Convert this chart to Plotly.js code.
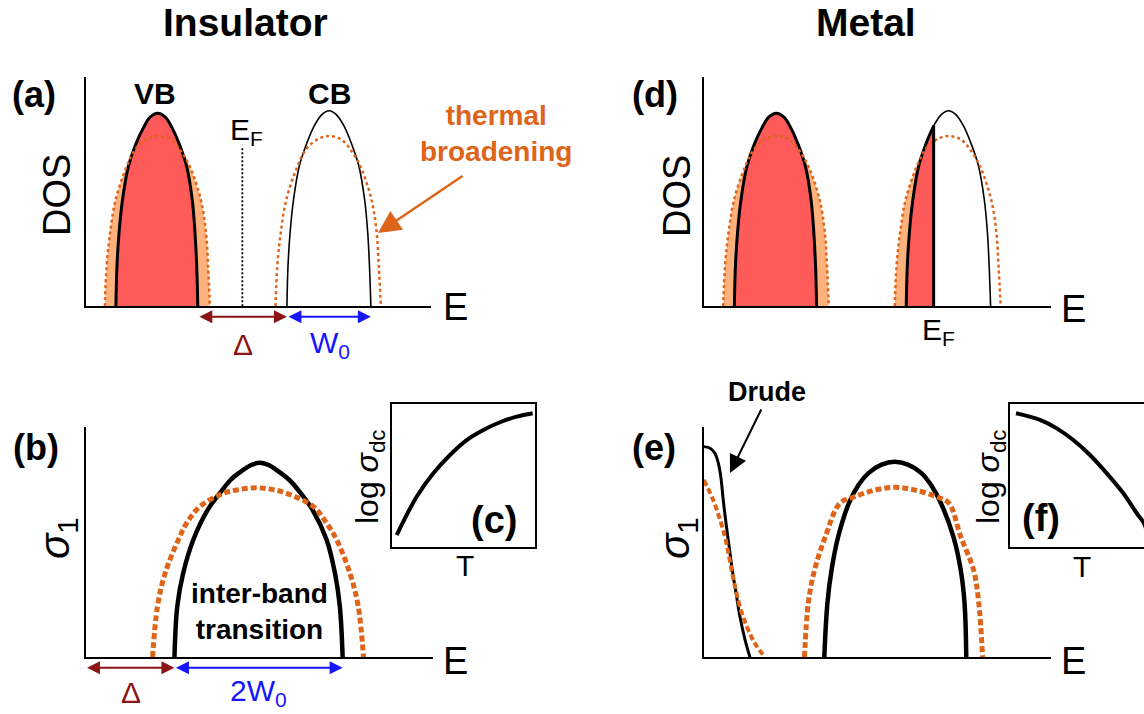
<!DOCTYPE html>
<html><head><meta charset="utf-8">
<script src="https://cdn.plot.ly/plotly-3.0.1.min.js"></script>
<style>html,body{margin:0;padding:0;background:#fff}</style>
</head><body><div id="chart" style="width:1144px;height:714px"></div>
<script>
// ---------- data (arbitrary schematic units) ----------
// (a)/(d) density of states: valence band (solid) and thermally broadened (dotted)
const vbX  = [0.88, 0.91, 0.97, 1.07, 1.24, 1.45, 1.67, 1.87, 2.09, 2.31, 2.51, 2.72, 2.93, 3.09, 3.17, 3.22, 3.25];
const vbY  = [0, 0.172, 0.318, 0.463, 0.608, 0.704, 0.776, 0.824, 0.841, 0.824, 0.776, 0.704, 0.608, 0.463, 0.318, 0.172, 0];
const vbTX = [0.56, 0.61, 0.71, 0.87, 1.19, 1.43, 1.72, 1.91, 2.11, 2.30, 2.49, 2.74, 3.02, 3.34, 3.49, 3.55, 3.60];
const vbTY = [0, 0.172, 0.318, 0.463, 0.608, 0.681, 0.724, 0.737, 0.742, 0.737, 0.724, 0.681, 0.608, 0.463, 0.318, 0.172, 0];
// conduction band (solid) and thermally broadened (dotted)
const cbX  = [5.83, 5.86, 5.92, 6.02, 6.19, 6.41, 6.62, 6.84, 7.05, 7.26, 7.48, 7.69, 7.91, 8.08, 8.17, 8.22, 8.26];
const cbY  = [0, 0.172, 0.318, 0.463, 0.612, 0.712, 0.786, 0.835, 0.852, 0.835, 0.786, 0.712, 0.612, 0.463, 0.318, 0.172, 0];
const cbTX = [5.50, 5.55, 5.65, 5.81, 6.13, 6.37, 6.62, 6.84, 7.05, 7.24, 7.43, 7.68, 7.96, 8.28, 8.43, 8.49, 8.55];
const cbTY = [0, 0.172, 0.318, 0.463, 0.608, 0.681, 0.718, 0.736, 0.742, 0.737, 0.724, 0.681, 0.608, 0.463, 0.318, 0.172, 0];
// Fermi levels
const efInsulator = 4.54, efInsulatorTop = 0.69;
const efMetal = 6.62;
// (b) insulator optical conductivity: inter-band (solid) and broadened (dashed)
const ibX  = [2.56, 2.64, 2.81, 3.10, 3.52, 3.92, 4.18, 4.45, 4.74, 5.02, 5.30, 5.58, 5.86, 6.14, 6.53, 6.94, 7.18, 7.32, 7.40];
const ibY  = [0, 0.22, 0.365, 0.51, 0.642, 0.724, 0.772, 0.805, 0.834, 0.846, 0.834, 0.805, 0.772, 0.724, 0.642, 0.51, 0.365, 0.22, 0];
const ibTX = [1.93, 2.07, 2.29, 2.67, 2.91, 3.29, 3.97, 4.45, 4.93, 5.36, 5.79, 6.56, 6.94, 7.23, 7.61, 7.85, 8.00];
const ibTY = [0, 0.22, 0.365, 0.51, 0.583, 0.655, 0.713, 0.73, 0.737, 0.73, 0.713, 0.655, 0.583, 0.51, 0.365, 0.22, 0];
// (e) metal optical conductivity: Drude + inter-band
const drX  = [0, 0.18, 0.32, 0.42, 0.49, 0.56, 0.64, 0.73, 0.82, 0.93, 1.04, 1.19, 1.33];
const drY  = [0.916, 0.909, 0.887, 0.843, 0.785, 0.684, 0.583, 0.481, 0.380, 0.278, 0.177, 0.075, 0];
const drTX = [0, 0.27, 0.47, 0.61, 0.71, 0.80, 0.90, 1.04, 1.24, 1.47, 1.76];
const drTY = [0.771, 0.684, 0.597, 0.524, 0.452, 0.380, 0.307, 0.22, 0.133, 0.061, 0];
const eibX  = [3.47, 3.56, 3.68, 3.87, 4.18, 4.45, 4.75, 5.12, 5.50, 5.88, 6.26, 6.55, 6.83, 7.19, 7.40, 7.51, 7.56];
const eibY  = [0, 0.235, 0.38, 0.524, 0.67, 0.748, 0.802, 0.838, 0.85, 0.838, 0.802, 0.748, 0.67, 0.524, 0.38, 0.235, 0];
const eibTX = [2.90, 3.01, 3.19, 3.50, 3.92, 4.34, 4.92, 5.50, 6.08, 6.70, 7.06, 7.40, 7.77, 7.92, 8.03];
const eibTY = [0, 0.235, 0.38, 0.524, 0.67, 0.698, 0.727, 0.739, 0.727, 0.698, 0.67, 0.524, 0.38, 0.235, 0];
// (c)/(f) log sigma_dc vs T
const cT = [0.033, 0.173, 0.29, 0.407, 0.524, 0.641, 0.758, 0.875, 0.987];
const cS = [0.082, 0.351, 0.515, 0.644, 0.749, 0.82, 0.874, 0.913, 0.937];
const fT = [0.042, 0.21, 0.328, 0.444, 0.561, 0.679, 0.795, 0.889, 0.94, 0.967];
const fS = [0.937, 0.89, 0.831, 0.749, 0.644, 0.515, 0.375, 0.235, 0.164, 0.082];

// ---------- styling ----------
const W = 1144, H = 714;
const px = v => v / W, py = v => 1 - v / H;
const FONT = 'Liberation Sans, Arial, sans-serif';
const RED = '#FF5A5A', PEACH = '#FDB27E', ORANGE = '#DD6418', DARKRED = '#8B1515', BLUE = '#1515FF';

function tr(xa, ya, x, y, line, extra) {
  return Object.assign({x, y, xaxis: xa, yaxis: ya, mode: 'lines', hoverinfo: 'skip',
    showlegend: false, line: Object.assign({shape: 'spline'}, line)}, extra || {});
}
const subset = (xs, ys, lim) => {
  const ox = [], oy = [];
  xs.forEach((v, i) => { if (v <= lim + 1e-9) { ox.push(v); oy.push(ys[i]); } });
  return [ox, oy];
};
const traces = [];
// (a) insulator DOS
traces.push(tr('x', 'y', vbTX, vbTY, {width: 0, color: PEACH}, {fill: 'tozeroy', fillcolor: PEACH}));
traces.push(tr('x', 'y', vbX, vbY, {width: 3, color: 'black'}, {fill: 'tozeroy', fillcolor: RED}));
traces.push(tr('x', 'y', vbTX, vbTY, {width: 2.5, color: ORANGE, dash: '3px,3px'}));
traces.push(tr('x', 'y', cbX, cbY, {width: 1.6, color: 'black'}));
traces.push(tr('x', 'y', cbTX, cbTY, {width: 2.5, color: ORANGE, dash: '3px,3px'}));
traces.push(tr('x', 'y', [efInsulator, efInsulator], [0, efInsulatorTop], {shape: 'linear', width: 1.8, color: 'black', dash: '2px,2px'}));
// (d) metal DOS
traces.push(tr('x2', 'y2', vbTX, vbTY, {width: 0, color: PEACH}, {fill: 'tozeroy', fillcolor: PEACH}));
traces.push(tr('x2', 'y2', vbX, vbY, {width: 3, color: 'black'}, {fill: 'tozeroy', fillcolor: RED}));
traces.push(tr('x2', 'y2', vbTX, vbTY, {width: 2.5, color: ORANGE, dash: '3px,3px'}));
const [cbTfx, cbTfy] = subset(cbTX, cbTY, efMetal);
const [cbFx, cbFy] = subset(cbX, cbY, efMetal);
traces.push(tr('x2', 'y2', cbTfx, cbTfy, {width: 0, color: PEACH}, {fill: 'tozeroy', fillcolor: PEACH}));
traces.push(tr('x2', 'y2', cbFx, cbFy, {width: 3, color: 'black'}, {fill: 'tozeroy', fillcolor: RED}));
traces.push(tr('x2', 'y2', cbX, cbY, {width: 1.6, color: 'black'}));
traces.push(tr('x2', 'y2', cbTX, cbTY, {width: 2.5, color: ORANGE, dash: '3px,3px'}));
traces.push(tr('x2', 'y2', [efMetal, efMetal], [0, cbFy[cbFy.length - 1]], {shape: 'linear', width: 3, color: 'black'}));
// (b) insulator sigma1
traces.push(tr('x3', 'y3', ibX, ibY, {width: 4.5, color: 'black'}));
traces.push(tr('x3', 'y3', ibTX, ibTY, {width: 5, color: ORANGE, dash: '6px,3px'}));
// (e) metal sigma1
traces.push(tr('x4', 'y4', drX, drY, {width: 3, color: 'black'}));
traces.push(tr('x4', 'y4', drTX, drTY, {width: 4, color: ORANGE, dash: '6px,3px'}));
traces.push(tr('x4', 'y4', eibX, eibY, {width: 4.5, color: 'black'}));
traces.push(tr('x4', 'y4', eibTX, eibTY, {width: 5, color: ORANGE, dash: '6px,3px'}));
// (c), (f) insets
traces.push(tr('x5', 'y5', cT, cS, {width: 4, color: 'black'}));
traces.push(tr('x6', 'y6', fT, fS, {width: 4, color: 'black'}));

const axBase = {showgrid: false, zeroline: false, showticklabels: false, ticks: '', showline: true,
  linecolor: 'black', linewidth: 2, fixedrange: true};
const topRow = [py(306.3), py(76.7)], botRow = [py(657.3), py(427.3)], inset = [py(546.7), py(404.3)];

const ann = [];
function txt(x, y, text, size, opts) {
  ann.push(Object.assign({xref: 'paper', yref: 'paper', x: px(x), y: py(y), text, showarrow: false,
    xanchor: 'center', yanchor: 'middle', font: {family: FONT, size, color: 'black'}}, opts || {}));
}
function harrow(xa, x0, x1, yPix, color) {
  ann.push({xref: xa, yref: 'paper', x: x1, y: py(yPix), axref: xa, ax: x0, ayref: 'pixel', ay: 0,
    text: '', showarrow: true, arrowhead: 2, startarrowhead: 2, arrowside: 'end+start',
    arrowsize: 1.3, startarrowsize: 1.3, arrowwidth: 2, arrowcolor: color, standoff: 0, startstandoff: 0});
}
txt(245, 22, '<b>Insulator</b>', 39);
txt(866, 22, '<b>Metal</b>', 39);
txt(34, 95, '<b>(a)</b>', 36);
txt(655, 95, '<b>(d)</b>', 36);
txt(36, 447, '<b>(b)</b>', 36);
txt(654, 447, '<b>(e)</b>', 36);
txt(155, 94, '<b>VB</b>', 30);
txt(329, 94, '<b>CB</b>', 30);
txt(57, 195, 'DOS', 38, {textangle: -90});
txt(677, 196, 'DOS', 38, {textangle: -90});
txt(455, 307, 'E', 38);
txt(1073, 309, 'E', 38);
txt(455, 661, 'E', 38);
txt(1073, 661, 'E', 38);
txt(57, 538, '<i>σ</i><sub>1</sub>', 42, {textangle: -90});
txt(677, 538, '<i>σ</i><sub>1</sub>', 42, {textangle: -90});
txt(246, 131, 'E<sub>F</sub>', 30);
txt(938, 331, 'E<sub>F</sub>', 30);
txt(496, 133, '<b>thermal<br>broadening</b>', 28, {font: {family: FONT, size: 28, color: ORANGE}});
txt(243, 344, 'Δ', 30, {font: {family: FONT, size: 30, color: DARKRED}});
txt(330, 344, 'W<sub>0</sub>', 30, {font: {family: FONT, size: 30, color: BLUE}});
txt(131, 692, 'Δ', 30, {font: {family: FONT, size: 30, color: DARKRED}});
txt(258, 692, '2W<sub>0</sub>', 30, {font: {family: FONT, size: 30, color: BLUE}});
txt(259, 611, '<b>inter-band<br>transition</b>', 28);
txt(767, 392, '<b>Drude</b>', 27);
txt(370, 477, 'log <i>σ</i><sub>dc</sub>', 32, {textangle: -90});
txt(991, 477, 'log <i>σ</i><sub>dc</sub>', 32, {textangle: -90});
txt(494, 520, '<b>(c)</b>', 38);
txt(1041, 518, '<b>(f)</b>', 38);
txt(465, 565, 'T', 30);
txt(1082, 566, 'T', 30);
// gap / bandwidth arrows derived from band edges
harrow('x', vbX[vbX.length - 1], cbX[0], 316.7, DARKRED);
harrow('x', cbX[0], cbX[cbX.length - 1], 316.7, BLUE);
harrow('x3', 0, ibX[0], 667.7, DARKRED);
harrow('x3', ibX[0], ibX[ibX.length - 1], 667.7, BLUE);
// pointer arrows
ann.push({xref: 'paper', yref: 'paper', x: px(378), y: py(233), ax: 86, ay: -58, text: '', showarrow: true,
  arrowhead: 2, arrowsize: 1.8, arrowwidth: 2.5, arrowcolor: ORANGE, standoff: 0});
ann.push({xref: 'paper', yref: 'paper', x: px(730), y: py(473), ax: 32, ay: -65, text: '', showarrow: true,
  arrowhead: 2, arrowsize: 1.8, arrowwidth: 2, arrowcolor: 'black', standoff: 0});

const layout = {
  width: W, height: H, autosize: false, margin: {l: 0, r: 0, t: 0, b: 0},
  paper_bgcolor: 'white', plot_bgcolor: 'white', showlegend: false,
  xaxis:  Object.assign({}, axBase, {domain: [px(85.5), px(431)], range: [0, 10], anchor: 'y'}),
  yaxis:  Object.assign({}, axBase, {domain: topRow, range: [0, 1], anchor: 'x'}),
  xaxis2: Object.assign({}, axBase, {domain: [px(703.8), px(1051)], range: [0, 10], anchor: 'y2'}),
  yaxis2: Object.assign({}, axBase, {domain: topRow, range: [0, 1], anchor: 'x2'}),
  xaxis3: Object.assign({}, axBase, {domain: [px(85.5), px(433)], range: [0, 10], anchor: 'y3'}),
  yaxis3: Object.assign({}, axBase, {domain: botRow, range: [0, 1], anchor: 'x3'}),
  xaxis4: Object.assign({}, axBase, {domain: [px(703.8), px(1051)], range: [0, 10], anchor: 'y4'}),
  yaxis4: Object.assign({}, axBase, {domain: botRow, range: [0, 1], anchor: 'x4'}),
  xaxis5: Object.assign({}, axBase, {domain: [px(392), px(534.5)], range: [0, 1], mirror: true, anchor: 'y5'}),
  yaxis5: Object.assign({}, axBase, {domain: inset, range: [0, 1], mirror: true, anchor: 'x5'}),
  xaxis6: Object.assign({}, axBase, {domain: [px(1010), 1], range: [0, 0.94], mirror: true, anchor: 'y6'}),
  yaxis6: Object.assign({}, axBase, {domain: inset, range: [0, 1], anchor: 'x6'}),
  annotations: ann
};
Plotly.newPlot('chart', traces, layout, {staticPlot: true, displayModeBar: false});
</script></body></html>
